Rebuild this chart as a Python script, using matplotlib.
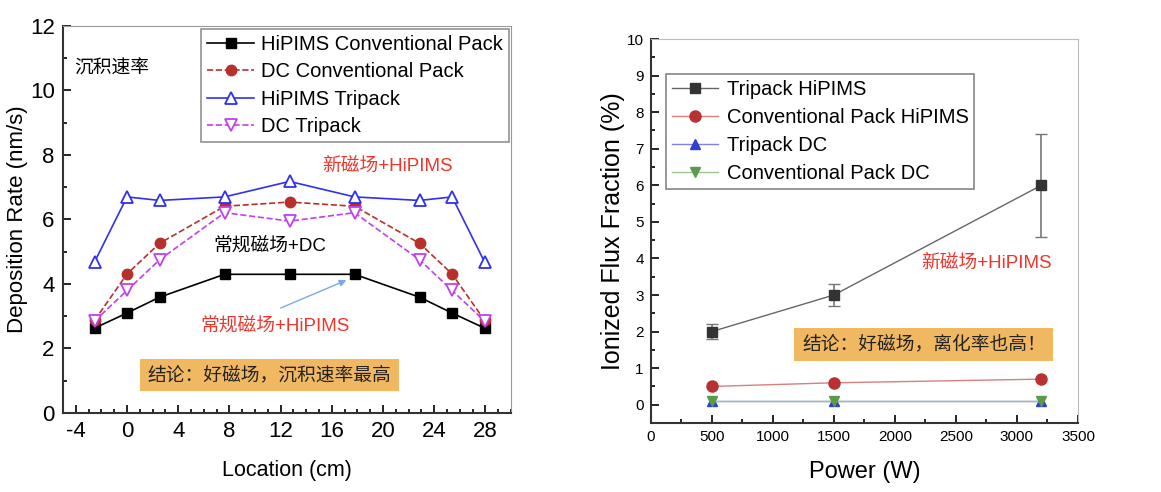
import numpy as np
import matplotlib
matplotlib.use('Agg')
import matplotlib.pyplot as plt
from matplotlib.ticker import MultipleLocator

plt.rcParams['font.family'] = ['Liberation Sans', 'Noto Sans CJK SC', 'DejaVu Sans']
plt.rcParams['axes.unicode_minus'] = False

# Left panel: deposition rate vs location
location = [-2.54, 0, 2.54, 7.62, 12.7, 17.78, 22.86, 25.4, 27.94]
hipims_conv = [2.63, 3.10, 3.59, 4.30, 4.30, 4.30, 3.59, 3.10, 2.63]
dc_conv = [2.87, 4.31, 5.26, 6.41, 6.54, 6.41, 5.26, 4.31, 2.87]
hipims_tri = [4.68, 6.70, 6.59, 6.70, 7.18, 6.70, 6.59, 6.70, 4.68]
dc_tri = [2.85, 3.80, 4.75, 6.21, 5.95, 6.21, 4.75, 3.80, 2.85]

# Right panel: ionized flux fraction vs power
power = [500, 1500, 3200]
tri_hipims = [2.0, 3.0, 6.0]
tri_hipims_err = [0.2, 0.3, 1.4]
conv_hipims = [0.5, 0.6, 0.7]
tri_dc = [0.1, 0.1, 0.1]
conv_dc = [0.1, 0.1, 0.1]

RED = '#f0362c'
BOX = '#f1b862'

fig = plt.figure(figsize=(11.61, 4.92), dpi=100)

# ---------- left ----------
ax1 = fig.add_axes([0.0543, 0.1606, 0.3858, 0.7866])
ax1.plot(location, hipims_conv, '-s', color='black', lw=1.2, ms=7,
         label='HiPIMS Conventional Pack')
ax1.plot(location, dc_conv, '--o', color='#b8302a', lw=1.2, ms=7.5,
         label='DC Conventional Pack')
ax1.plot(location, hipims_tri, '-^', color='#3030f0', lw=1.2, ms=8,
         mfc='white', mew=1.3, label='HiPIMS Tripack')
ax1.plot(location, dc_tri, '--v', color='#c040f0', lw=1.2, ms=8,
         mfc='white', mew=1.3, label='DC Tripack')

ax1.set_xlim(-5, 30)
ax1.set_ylim(0, 12)
ax1.xaxis.set_major_locator(MultipleLocator(4))
ax1.xaxis.set_minor_locator(MultipleLocator(1))
ax1.yaxis.set_major_locator(MultipleLocator(2))
ax1.yaxis.set_minor_locator(MultipleLocator(1))
ax1.tick_params(which='both', direction='in', top=False, right=False,
                labelsize=16, width=1.2)
ax1.tick_params(which='major', length=6, pad=6)
ax1.tick_params(which='minor', length=3)
for s in ['left', 'bottom']:
    ax1.spines[s].set_linewidth(1.5)
    ax1.spines[s].set_color('#333333')
for s in ['top', 'right']:
    ax1.spines[s].set_color('#999999')
ax1.set_xlabel('Location (cm)', fontsize=15.5, labelpad=13)
ax1.set_ylabel('Deposition Rate (nm/s)', fontsize=16, labelpad=1)

leg1 = ax1.legend(loc='upper right', bbox_to_anchor=(0.995, 0.993),
                  fontsize=14.5, frameon=True, fancybox=False,
                  handlelength=2.3, handletextpad=0.35, labelspacing=0.42,
                  borderpad=0.3, borderaxespad=0)
leg1.get_frame().set_edgecolor('#777777')
leg1.get_frame().set_linewidth(1.2)

ax1.text(-4.14, 10.67, '沉积速率', fontsize=13.5, va='center', ha='left')
ax1.text(15.23, 7.66, '新磁场+HiPIMS', fontsize=13.5, va='center', color=RED)
ax1.text(6.72, 5.18, '常规磁场+DC', fontsize=13.5, va='center')
ax1.text(5.7, 2.70, '常规磁场+HiPIMS', fontsize=13.5, va='center', color=RED)
ax1.annotate('', xy=(17.34, 4.15), xytext=(11.8, 3.22),
             arrowprops=dict(arrowstyle='-|>', color='#7aa8e8', lw=1,
                             mutation_scale=10))
ax1.text(1.6, 1.18, '结论：好磁场，沉积速率最高', fontsize=13.5, va='center',
         color='#222222',
         bbox=dict(boxstyle='square,pad=0.4', fc=BOX, ec='none'))

# ---------- right ----------
ax2 = fig.add_axes([0.5605, 0.1402, 0.3680, 0.7805])
h1 = ax2.errorbar(power, tri_hipims, yerr=tri_hipims_err, fmt='-s',
                  color='#333333', ecolor='#777777', elinewidth=1.2, capsize=4,
                  lw=1, ms=7, label='Tripack HiPIMS')
h1[0].set_color('#666666')
h1[0].set_markerfacecolor('#333333')
h1[0].set_markeredgecolor('#333333')
h2, = ax2.plot(power, conv_hipims, '-o', color='#d88080', mfc='#b83232',
               mec='#b83232', lw=1, ms=8, label='Conventional Pack HiPIMS')
h3, = ax2.plot(power, tri_dc, '-^', color='#8080e8', mfc='#3040d0',
               mec='#3040d0', lw=1, ms=7.5, label='Tripack DC')
h4, = ax2.plot(power, conv_dc, '-v', color='#98c890', mfc='#5a9a48',
               mec='#5a9a48', lw=1, ms=7.5, label='Conventional Pack DC')

ax2.set_xlim(0, 3500)
ax2.set_ylim(-0.5, 10)
ax2.xaxis.set_major_locator(MultipleLocator(500))
ax2.xaxis.set_minor_locator(MultipleLocator(250))
ax2.yaxis.set_major_locator(MultipleLocator(1))
ax2.yaxis.set_minor_locator(MultipleLocator(0.5))
ax2.tick_params(which='both', direction='in', top=False, right=False,
                labelsize=11, width=1.2)
ax2.tick_params(which='major', length=6, pad=5)
ax2.tick_params(which='minor', length=3)
for s in ['left', 'bottom']:
    ax2.spines[s].set_linewidth(1.5)
    ax2.spines[s].set_color('#333333')
for s in ['top', 'right']:
    ax2.spines[s].set_color('#bbbbbb')
ax2.set_xlabel('Power (W)', fontsize=17, labelpad=12)
ax2.set_ylabel('Ionized Flux Fraction (%)', fontsize=18, labelpad=1)

leg2 = ax2.legend([h1[0], h2, h3, h4],
                  ['Tripack HiPIMS', 'Conventional Pack HiPIMS', 'Tripack DC',
                   'Conventional Pack DC'],
                  loc='upper left', bbox_to_anchor=(0.036, 0.909),
                  fontsize=14.5, frameon=True, fancybox=False,
                  handlelength=2.3, handletextpad=0.4, labelspacing=0.45,
                  borderpad=0.3, borderaxespad=0)
leg2.get_frame().set_edgecolor('#666666')
leg2.get_frame().set_linewidth(1.2)

ax2.text(2212, 3.88, '新磁场+HiPIMS', fontsize=13.5, va='center', color=RED)
ax2.text(1239, 1.64, '结论：好磁场，离化率也高！', fontsize=13.5, va='center',
         color='#222222',
         bbox=dict(boxstyle='square,pad=0.4', fc=BOX, ec='none'))

fig.savefig('out.png', dpi=100)
